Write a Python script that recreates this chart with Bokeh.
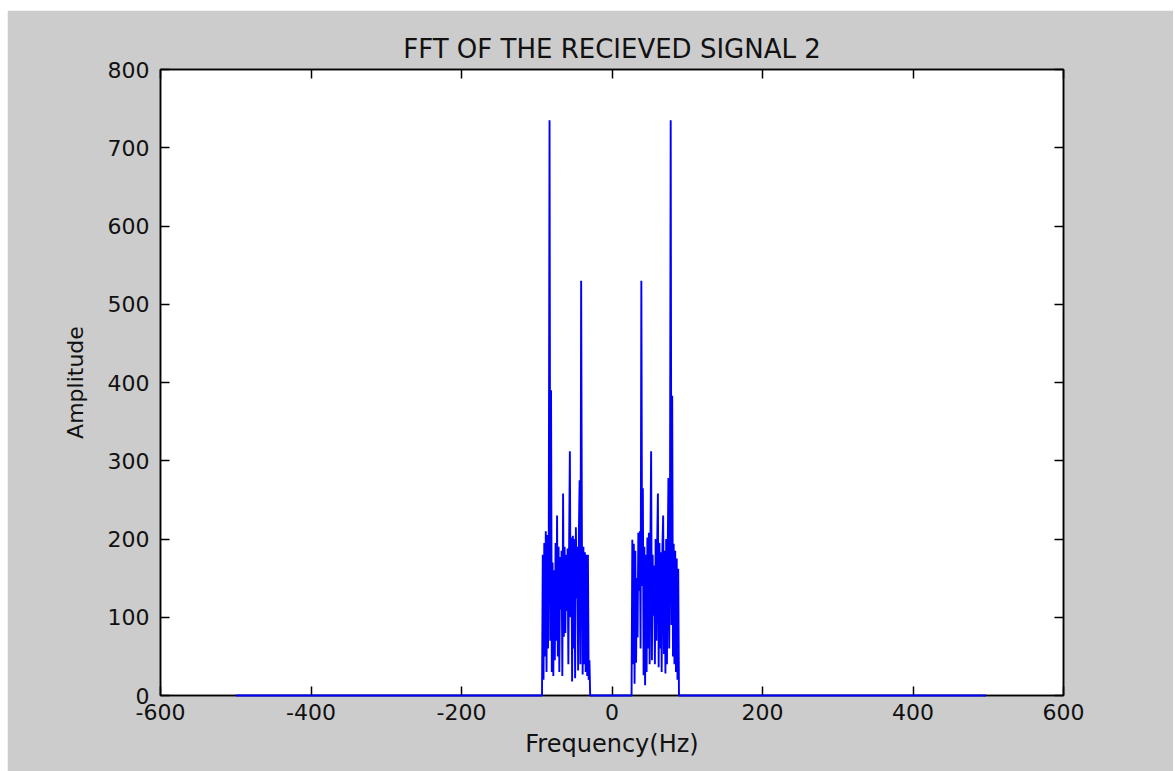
from bokeh.plotting import figure
from bokeh.models import LinearAxis, Range1d, FixedTicker
from bokeh.embed import file_html
from bokeh.resources import INLINE

# ---- data ----
x_ticks = [-600, -400, -200, 0, 200, 400, 600]
y_ticks = [0, 100, 200, 300, 400, 500, 600, 700, 800]

base_left_freq = [-500, -93]
base_left_amp = [0, 0]

left_freq = [-92, -91, -90, -89, -88, -87, -86, -85, -84, -83,
             -82, -81, -80, -79, -78, -77, -76, -75, -74, -73,
             -72, -71, -70, -69, -68, -67, -66, -65, -64, -63,
             -62, -61, -60, -59, -58, -57, -56, -55, -54, -53,
             -52, -51, -50, -49, -48, -47, -46, -45, -44, -43,
             -42, -41, -40, -39, -38, -37, -36, -35, -34, -33,
             -32, -31, -30]
left_amp = [180, 20, 195, 50, 210, 30, 205, 60, 210, 735,
            70, 390, 30, 170, 25, 160, 45, 195, 70, 230,
            50, 190, 30, 177, 110, 185, 25, 258, 75, 190,
            80, 180, 108, 188, 40, 190, 312, 100, 202, 18,
            204, 60, 200, 22, 215, 124, 190, 32, 210, 275,
            40, 530, 204, 27, 190, 40, 183, 30, 180, 25,
            180, 20, 45]

gap_freq = [-29, 26]
gap_amp = [0, 0]

right_freq = [27, 28, 29, 30, 31, 32, 33, 34, 35, 36,
              37, 38, 39, 40, 41, 42, 43, 44, 45, 46,
              47, 48, 49, 50, 51, 52, 53, 54, 55, 56,
              57, 58, 59, 60, 61, 62, 63, 64, 65, 66,
              67, 68, 69, 70, 71, 72, 73, 74, 75, 76,
              77, 78, 79, 80, 81, 82, 83, 84, 85, 86,
              87, 88]
right_amp = [199, 40, 194, 15, 185, 42, 150, 74, 208, 134,
             210, 60, 530, 140, 265, 26, 190, 13, 180, 30,
             202, 60, 208, 40, 190, 312, 45, 180, 102, 166,
             40, 200, 70, 190, 258, 36, 195, 60, 183, 30,
             190, 230, 53, 185, 28, 200, 40, 180, 278, 60,
             200, 735, 90, 383, 50, 194, 40, 185, 30, 175,
             20, 162]

base_right_freq = [89, 497]
base_right_amp = [0, 0]

freq = base_left_freq + left_freq + gap_freq + right_freq + base_right_freq
amp = base_left_amp + left_amp + gap_amp + right_amp + base_right_amp

FONT = "DejaVu Sans"
TXT = "#111111"

p = figure(frame_width=903, frame_height=626,
           x_range=Range1d(-600, 600), y_range=Range1d(0, 800),
           output_backend="svg", toolbar_location=None,
           title="FFT OF THE RECIEVED SIGNAL 2",
           min_border_left=153, min_border_right=110,
           min_border_top=59, min_border_bottom=76)
p.margin = (10, 2, 0, 7)

p.background_fill_color = "white"
p.border_fill_color = "#cccccc"
p.outline_line_color = "black"
p.outline_line_width = 1.5
p.xgrid.visible = False
p.ygrid.visible = False

p.title.align = "center"
p.title.text_font = FONT
p.title.text_font_size = "26px"
p.title.text_font_style = "normal"
p.title.text_color = TXT
p.title.standoff = 12

r = p.line(freq, amp, line_color="#0000ff", line_width=1.9)
r.level = "overlay"

def style_axis(ax, labels=True):
    ax.axis_line_color = "black"
    ax.axis_line_width = 1.5
    ax.major_tick_in = 9
    ax.major_tick_out = 0
    ax.minor_tick_in = 0
    ax.minor_tick_out = 0
    ax.major_tick_line_color = "black"
    ax.major_tick_line_width = 1.5
    ax.major_label_text_font = FONT
    ax.axis_label_text_font = FONT
    ax.axis_label_text_color = TXT
    ax.axis_label_text_font_style = "normal"
    if labels:
        ax.major_label_text_color = TXT
        ax.major_label_text_font_size = "22px"
    else:
        ax.major_label_text_color = None
        ax.major_label_text_font_size = "1px"

xa = p.xaxis[0]
ya = p.yaxis[0]
xa.ticker = FixedTicker(ticks=x_ticks)
ya.ticker = FixedTicker(ticks=y_ticks)
xa.major_label_overrides = {t: str(t) for t in x_ticks}
style_axis(xa)
style_axis(ya)
xa.axis_label = "Frequency(Hz)"
ya.axis_label = "Amplitude"
xa.axis_label_text_font_size = "24px"
ya.axis_label_text_font_size = "22px"
xa.major_label_standoff = 8
ya.major_label_standoff = 11
xa.axis_label_standoff = 7
ya.axis_label_standoff = 17

top = LinearAxis(ticker=FixedTicker(ticks=x_ticks))
right = LinearAxis(ticker=FixedTicker(ticks=y_ticks))
style_axis(top, labels=False)
style_axis(right, labels=False)
top.major_label_standoff = 0
right.major_label_standoff = 0
p.add_layout(top, "above")
p.add_layout(right, "right")

open("out.html", "w").write(file_html(p, INLINE))
